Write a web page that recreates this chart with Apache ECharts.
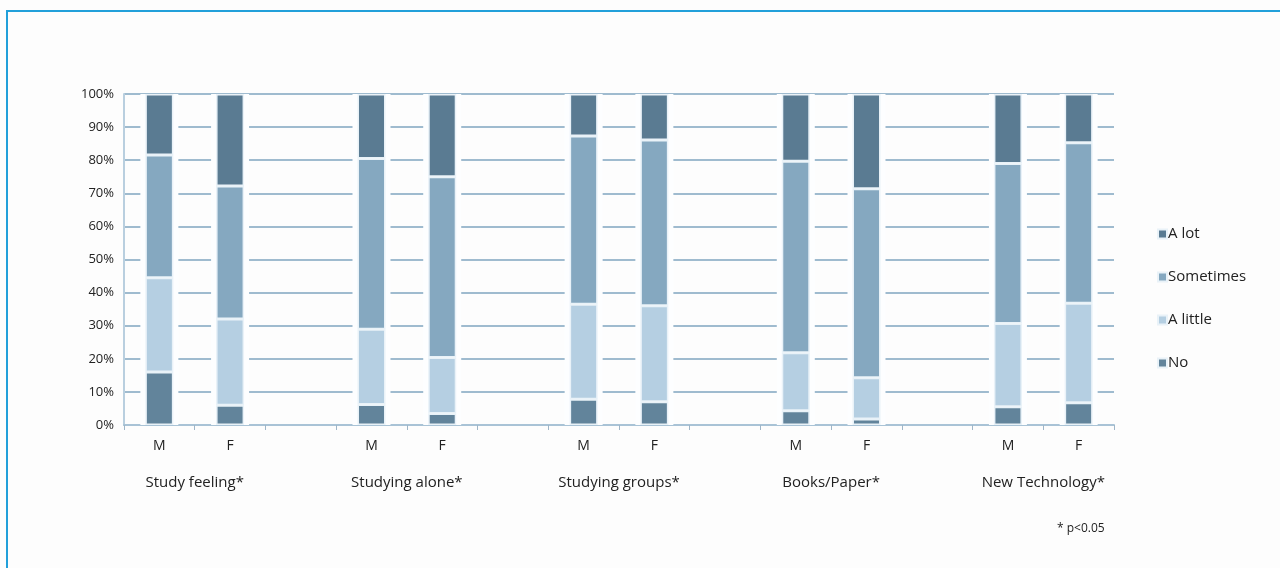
<!DOCTYPE html>
<html>
<head>
<meta charset="utf-8">
<script src="https://cdn.jsdelivr.net/npm/echarts@6/dist/echarts.min.js"></script>
<style>
html,body{margin:0;padding:0;background:#fdfdfd;}
#frame{position:absolute;left:6px;top:10px;width:1274px;height:558px;border-top:2px solid #22a0da;border-left:2px solid #22a0da;box-sizing:border-box;z-index:5;pointer-events:none;}
#chart{position:absolute;left:0;top:0;width:1280px;height:568px;}
</style>
</head>
<body>
<div id="frame"></div>
<div id="chart"></div>
<script>
// Data
const groups = ['Study feeling*', 'Studying alone*', 'Studying groups*', 'Books/Paper*', 'New Technology*'];
const sexes = ['M', 'F'];
const seriesNames = ['No', 'A little', 'Sometimes', 'A lot'];
const legendOrder = ['A lot', 'Sometimes', 'A little', 'No'];
// values per bar, order: SF-M, SF-F, SA-M, SA-F, SG-M, SG-F, BP-M, BP-F, NT-M, NT-F
const noVals        = [16, 6, 6.2, 3.5, 7.8, 7, 4.3, 1.8, 5.5, 6.7];
const aLittleVals   = [28.5, 26, 22.7, 16.9, 28.7, 29, 17.5, 12.5, 25.2, 30.1];
const sometimesVals = [37.1, 40.2, 51.6, 54.6, 50.8, 50.1, 57.9, 57.1, 48.3, 48.5];
const aLotVals      = [18.4, 27.8, 19.5, 25, 12.7, 13.9, 20.3, 28.6, 21, 14.7];
const yTicks = ['0%','10%','20%','30%','40%','50%','60%','70%','80%','90%','100%'];
const note = '* p<0.05';

// Build category list: M, F, (gap) per group
const cats = [];
const mapIdx = [];
groups.forEach((g, gi) => {
  sexes.forEach((s, si) => { mapIdx.push(cats.length); cats.push(s); });
  if (gi < groups.length - 1) cats.push('');
});
function expand(arr) {
  const out = cats.map(() => '-');
  arr.forEach((v, i) => { out[mapIdx[i]] = v; });
  return out;
}
// group label axis: boundaryGap false, len cats+1, labels at M/F boundaries
const groupCats = [];
for (let i = 0; i <= cats.length; i++) groupCats.push('');
groups.forEach((g, gi) => { groupCats[gi * 3 + 1] = g; });
const bgVals = expand(noVals.map(() => 100));

const colors = {'No': '#62849b', 'A little': '#b5cfe2', 'Sometimes': '#85a8c0', 'A lot': '#5a7b92'};
const valsByName = {'No': noVals, 'A little': aLittleVals, 'Sometimes': sometimesVals, 'A lot': aLotVals};
const font = '"Open Sans", "Noto Sans", sans-serif';

const chart = echarts.init(document.getElementById('chart'));
const series = [{
  name: 'bg', type: 'bar', xAxisIndex: 2, data: bgVals, barWidth: 38,
  itemStyle: {color: '#fdfeff'}, silent: true, z: 1
}];
seriesNames.forEach(n => {
  series.push({
    name: n, type: 'bar', stack: 'total', xAxisIndex: 0, data: expand(valsByName[n]),
    barWidth: 28, z: 3,
    itemStyle: {color: colors[n], borderColor: '#e9f2f8', borderWidth: 1.5}
  });
});

chart.setOption({
  animation: false,
  grid: {left: 124, right: 166, top: 94, bottom: 143},
  legend: {
    data: legendOrder, orient: 'vertical', left: 1152, top: 219, itemGap: 23,
    itemWidth: 9, itemHeight: 9, icon: 'rect',
    textStyle: {fontFamily: font, fontSize: 15, lineHeight: 20, color: '#222', padding: [0, 0, 0, -4]}
  },
  xAxis: [{
    type: 'category', data: cats, position: 'bottom',
    axisLine: {lineStyle: {color: '#a9c3d6', width: 2}},
    axisTick: {show: true, alignWithLabel: false, interval: 0, length: 5, lineStyle: {color: '#9fb6c8'}},
    axisLabel: {interval: 0, fontFamily: font, fontSize: 14, color: '#222', margin: 14}
  }, {
    type: 'category', data: groupCats, position: 'bottom', boundaryGap: false,
    axisLine: {show: false}, axisTick: {show: false},
    axisLabel: {interval: 0, fontFamily: font, fontSize: 15, color: '#222', margin: 50}
  }, {
    type: 'category', data: cats, position: 'bottom', show: false
  }],
  yAxis: {
    type: 'value', min: 0, max: 100, interval: 10,
    axisLine: {show: true, lineStyle: {color: '#b9cfdf', width: 2}},
    axisTick: {show: false},
    splitLine: {lineStyle: {color: '#9fbbcf', width: 2}},
    axisLabel: {formatter: v => yTicks[Math.round(v / 10)], fontFamily: font, fontSize: 13, color: '#222', margin: 10}
  },
  graphic: [{
    type: 'text', left: 1057, top: 523,
    style: {text: note, font: '12px ' + font, fill: '#222'}
  }],
  series: series
});
</script>
</body>
</html>
